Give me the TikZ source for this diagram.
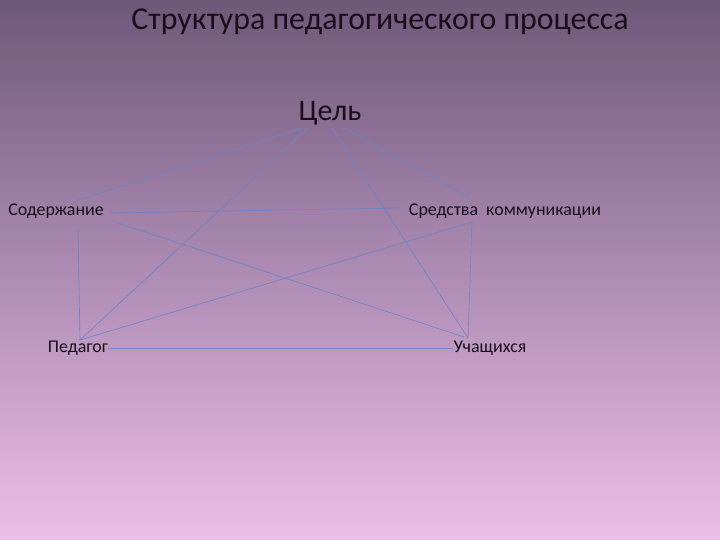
\documentclass[tikz,border=0pt]{standalone}
\usepackage{fontspec}
\setmainfont{Carlito}
\definecolor{bgtop}{RGB}{110,88,122}
\definecolor{bgbot}{RGB}{236,190,234}
\definecolor{linkblue}{RGB}{108,132,200}
\definecolor{ink}{RGB}{24,14,26}
\tikzset{
  term/.style={inner sep=0pt,text=ink,font=\fontsize{18}{20}\selectfont},
  link/.style={draw=linkblue,line width=0.65pt}
}
\begin{document}
\begin{tikzpicture}[x=1bp,y=-1bp]
%background
\shade[top color=bgtop,bottom color=bgbot] (0,0) rectangle (720,540);
\useasboundingbox (0,0) rectangle (720,540);

%title
\node[inner sep=0pt,text=ink,font=\fontsize{32}{36}\selectfont] (title) at (380,22) {Структура педагогического процесса};

\node[inner sep=0pt,text=ink,font=\fontsize{30}{34}\selectfont] (cel) at (330,113) {Цель};
\node[term] (sod) at (56,211) {Содержание};
\node[term] (sred) at (505,211) {Средства\ \ коммуникации};
\node[term] (ped) at (78,348) {Педагог};
\node[term] (uch) at (490,348) {Учащихся};

%ends of the lines
\coordinate (cel-a) at (302,128);
\coordinate (cel-b) at (308,128);
\coordinate (cel-c) at (332,128);
\coordinate (cel-d) at (345,128);
\coordinate (sod-up) at (78,200);
\coordinate (sod-dn) at (78,230);
\coordinate (sod-r) at (112,221);
\coordinate (sod-rr) at (110,213);
\coordinate (sred-l) at (398,208);
\coordinate (sred-up) at (470,198);
\coordinate (sred-dn) at (472,222);
\coordinate (ped-up) at (80,340);
\coordinate (uch-up) at (468,338);
\coordinate (uch-l) at (464,337);

%from the goal
\draw[link] (cel-a) -- (sod-up);
\draw[link] (cel-b) -- (ped-up);
\draw[link] (cel-c) -- (uch-up);
\draw[link] (cel-d) -- (sred-up);

%cross lines
\draw[link] (sod-rr) -- (sred-l);
\draw[link] (sod-r) -- (uch-l);
\draw[link] (sred-dn) -- (ped-up);

%sides
\draw[link] (sod-dn) -- (ped-up);
\draw[link] (sred-dn) -- (uch-up);
\draw[link] (ped.east) -- (uch.west);
\end{tikzpicture}
\end{document}
